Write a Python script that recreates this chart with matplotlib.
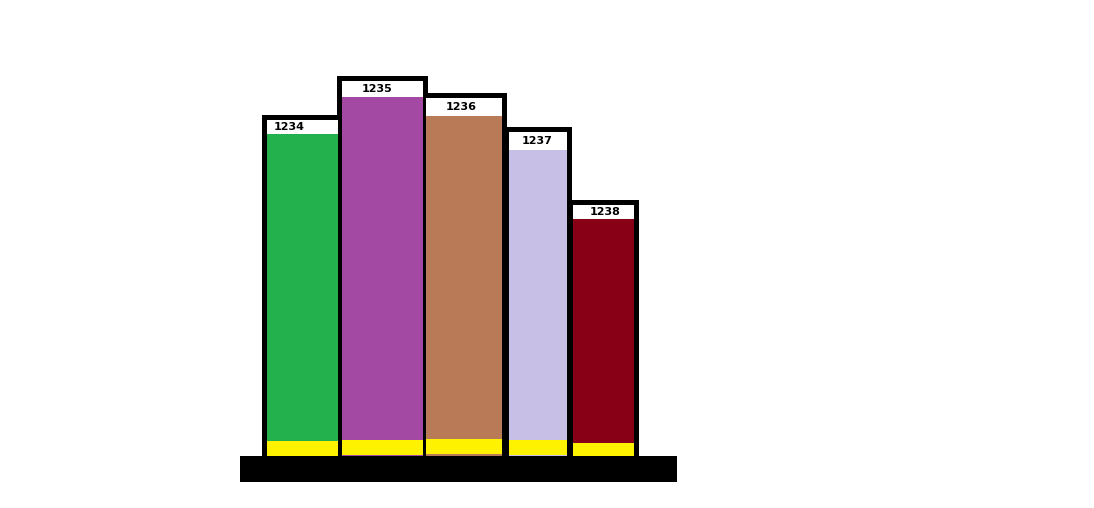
import matplotlib
matplotlib.use("Agg")
import matplotlib.pyplot as plt

# bar data (heights measured from the baseline, in pixels of the drawing)
labels = ["1234", "1235", "1236", "1237", "1238"]
values = [322, 359, 340, 306, 237]
colors = ["#22B14C", "#A349A4", "#B97A57", "#C8BFE7", "#880015"]

# layout of the hand drawn bars
lefts = [267, 342, 426, 509, 573]
widths = [71, 81, 76, 58, 61]
label_dx = [7, 20, 20, 13, 17]
label_box = [14, 16, 18, 18, 14]
yellow_lo = [0, 1, 2, 1, 0]
yellow_hi = [15, 16, 17, 16, 13]
base = 52
border = 5

fig = plt.figure(figsize=(10.94, 5.08), dpi=100)
ax = fig.add_axes([0, 0, 1, 1])
ax.set_xlim(0, 1094)
ax.set_ylim(0, 508)
ax.axis("off")

# black frames first
for l, w, v, lb in zip(lefts, widths, values, label_box):
    ax.bar(l - border, v + lb + border, width=w + 2 * border, bottom=base,
           align="edge", color="black", linewidth=0)

# white label box, coloured body, yellow foot
for l, w, v, c, lo, hi, lab, dx, lb in zip(lefts, widths, values, colors,
                                           yellow_lo, yellow_hi, labels,
                                           label_dx, label_box):
    ax.bar(l, lb, width=w, bottom=base + v, align="edge",
           color="white", linewidth=0)
    ax.bar(l, v, width=w, bottom=base, align="edge", color=c, linewidth=0)
    ax.bar(l, hi - lo, width=w, bottom=base + lo, align="edge",
           color="#FFF200", linewidth=0)
    ax.text(l + dx, base + v + lb / 2, lab, fontsize=8, fontweight="semibold",
            va="center", ha="left", color="black")

# black ground block
ax.bar(240, 26, width=437, bottom=base - 26, align="edge", color="black",
       linewidth=0)

fig.savefig("out.png", dpi=100, facecolor="white")
